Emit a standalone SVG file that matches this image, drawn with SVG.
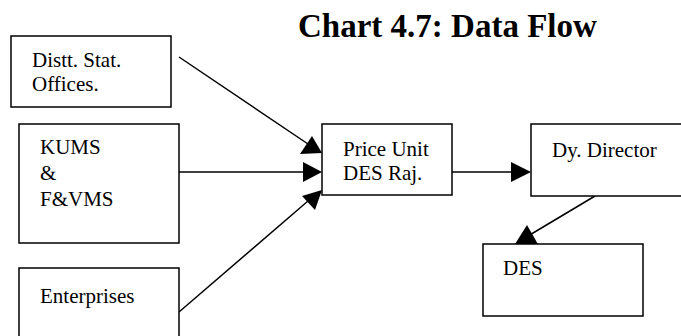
<svg xmlns="http://www.w3.org/2000/svg" width="681" height="336" viewBox="0 0 681 336" font-family="'Liberation Serif', 'Times New Roman', serif">
<style>
.box{fill:#fff;stroke:#000;stroke-width:1.5}
text{font-family:"Liberation Serif","Times New Roman",serif}
.t{font-size:21px;fill:#000}
.title{font-size:33px;font-weight:bold;fill:#000}
.c{stroke:#000;stroke-width:1.5;fill:none}
.ah{fill:#000}
</style>
<rect width="681" height="336" fill="#fff"/>
<text class="title" x="298" y="37">Chart 4.7: Data Flow</text>
<g id="connectors">
<line class="c" x1="179" y1="57" x2="308" y2="144"/>
<polygon class="ah" points="322,153 300,154 312,136"/>
<line class="c" x1="179" y1="172" x2="304" y2="172"/>
<polygon class="ah" points="322,172 303,162 303,182"/>
<line class="c" x1="179" y1="312" x2="308" y2="201"/>
<polygon class="ah" points="322,190 315,210 302,196"/>
<line class="c" x1="452" y1="172" x2="513" y2="172"/>
<polygon class="ah" points="531,172 511,162 511,182"/>
<line class="c" x1="595" y1="196" x2="528" y2="236"/>
<polygon class="ah" points="510,252 527,225 539,246"/>
</g>
<g id="distt">
<rect class="box" x="11" y="36" width="160" height="71"/>
<text class="t" x="32" y="67" font-family="'Liberation Serif', serif">Distt. Stat.</text>
<text class="t" x="32" y="91" font-family="'Liberation Serif', serif">Offices.</text>
</g>
<g id="kums">
<rect class="box" x="19" y="124" width="160" height="119"/>
<text class="t" x="40" y="154" font-family="'Liberation Serif', serif">KUMS</text>
<text class="t" x="40" y="180" font-family="'Liberation Serif', serif">&amp;</text>
<text class="t" x="40" y="206" font-family="'Liberation Serif', serif">F&amp;VMS</text>
</g>
<g id="enterprises">
<rect class="box" x="19" y="268" width="160" height="80"/>
<text class="t" x="40" y="303" font-family="'Liberation Serif', serif">Enterprises</text>
</g>
<g id="price">
<rect class="box" x="322" y="124" width="130" height="71"/>
<text class="t" x="343" y="156" font-family="'Liberation Serif', serif">Price Unit</text>
<text class="t" x="343" y="180" font-family="'Liberation Serif', serif">DES Raj.</text>
</g>
<g id="dydirector">
<rect class="box" x="531" y="124" width="160" height="72"/>
<text class="t" x="552" y="157" font-family="'Liberation Serif', serif">Dy. Director</text>
</g>
<g id="des">
<rect class="box" x="483" y="244" width="160" height="72"/>
<text class="t" x="503" y="275" font-family="'Liberation Serif', serif">DES</text>
</g>
</svg>
